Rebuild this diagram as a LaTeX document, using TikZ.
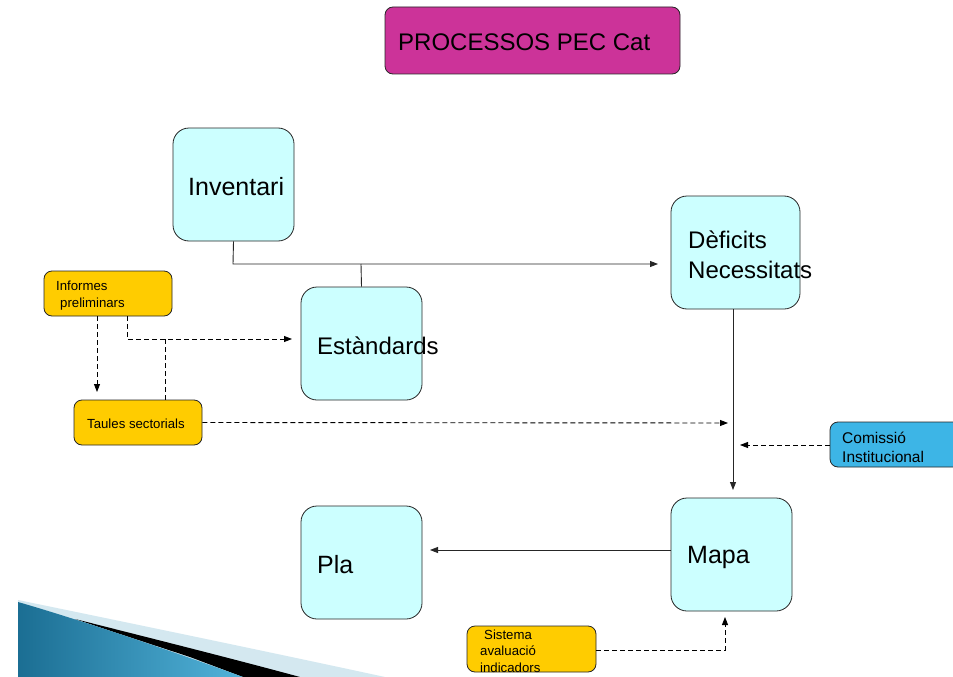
\documentclass[tikz,border=0pt]{standalone}
\usepackage{fontspec}
\setmainfont{Liberation Sans}
\usetikzlibrary{arrows.meta}
\definecolor{cyanbox}{HTML}{CCFFFF}
\definecolor{magbox}{HTML}{CC3399}
\definecolor{yelbox}{HTML}{FFCC00}
\definecolor{bluebox}{HTML}{3DB5E6}
\definecolor{swlight}{HTML}{D4E8F0}
\definecolor{swdark}{HTML}{1B6E93}
\definecolor{swmid}{HTML}{52B3DA}
\tikzset{
  bigbox/.style={draw=black!85, line width=0.8pt, fill=cyanbox, rounded corners=16pt, minimum width=121pt, minimum height=113pt, inner sep=0pt},
  smallbox/.style={draw=black!85, line width=0.8pt, fill=yelbox, rounded corners=8pt, minimum width=128pt, minimum height=45pt, inner sep=0pt},
  bigtxt/.style={anchor=west, inner sep=0pt, font=\fontsize{25}{30}\selectfont, align=left},
  smalltxt/.style={anchor=west, inner sep=0pt, font=\fontsize{13.2}{17}\selectfont, align=left},
  conn/.style={line width=0.9pt, black!85},
  arr/.style={-{Triangle[length=8pt,width=6pt]}},
  dsh/.style={line width=0.9pt, dash pattern=on 5pt off 3pt},
}
\begin{document}
\begin{tikzpicture}[x=1pt,y=-1pt]
\useasboundingbox (0,0) rectangle (953,677);
\fill[white] (0,0) rectangle (953,677);
\begin{scope}
\clip (0,0) rectangle (953,677);
% decorative swoosh
\fill[swlight] (18,600) .. controls (120,621) and (260,650) .. (385,677) -- (18,677) -- cycle;
\fill[black] (75,619) .. controls (150,638) and (230,658) .. (300,677) -- (243,677) -- (190,657) -- (120,634) -- cycle;
\shade[left color=swdark, right color=swmid] (18,602) .. controls (60,614) and (150,643) .. (243,677) -- (18,677) -- cycle;
% title
\node[draw=black!85, line width=0.8pt, fill=magbox, rounded corners=8pt, minimum width=295pt, minimum height=67pt, inner sep=0pt] (title) at (532.5,40.5) {};
\node[anchor=west, inner sep=0pt, font=\fontsize{24}{28}\selectfont] (titletxt) at (398,42) {PROCESSOS PEC Cat};
% big boxes
\node[bigbox] (inv) at (233.5,184.5) {};
\node[bigtxt] (invtxt) at (188,187) {Inventari};
\node[bigbox, minimum width=129pt] (def) at (735.5,252.5) {};
\node[bigtxt, font=\fontsize{24}{30}\selectfont] (deftxt) at (688,255) {Dèficits\\Necessitats};
\node[bigbox] (est) at (361.5,343.5) {};
\node[bigtxt, font=\fontsize{24}{30}\selectfont] (esttxt) at (317,346) {Estàndards};
\node[bigbox] (pla) at (361.5,562.5) {};
\node[bigtxt] (platxt) at (317,565) {Pla};
\node[bigbox] (mapa) at (731.5,554.5) {};
\node[bigtxt] (mapatxt) at (687,557) {Mapa};
% small boxes
\node[smallbox] (inf) at (108,293.5) {};
\node[smalltxt] (inftxt) at (56,295.5) {Informes\\\hspace*{4pt}preliminars};
\node[smallbox] (tau) at (138,422.5) {};
\node[smalltxt] (tautxt) at (87,423.5) {Taules sectorials};
\node[smallbox, fill=bluebox, minimum width=135pt] (com) at (897.5,444.5) {};
\node[anchor=west, inner sep=0pt, font=\fontsize{15.5}{19}\selectfont, align=left] (comtxt) at (842,447) {Comissió\\Institucional};
\node[smallbox, minimum width=129pt, minimum height=46pt] (sis) at (531.5,649) {};
\node[smalltxt, font=\fontsize{13.2}{16.5}\selectfont] (sistxt) at (480,651) {\hspace*{4pt}Sistema\\avaluació\\indicadors};
\end{scope}
% coordinates
\coordinate (j1) at (233,264);
\coordinate (j2) at (361,264);
\coordinate (defin) at (658,264);
\coordinate (mapain) at (733,490);
\coordinate (plain) at (430,550);
\coordinate (tauin) at (97,392);
\coordinate (k1) at (127,339);
\coordinate (k2) at (165,339);
\coordinate (estin) at (292,339);
\coordinate (t1) at (728,423);
\coordinate (c1) at (740,445);
\coordinate (s1) at (725,650);
\coordinate (s2) at (725,617);
% solid connectors
\draw[conn, arr] (inv.south) -- (j1) -- (defin);
\draw[conn] (j2) -- (est.north);
\draw[conn, arr] (def.south -| mapain) -- (mapain);
\draw[conn, arr] (mapa.west |- plain) -- (plain);
% dashed connectors
\draw[dsh, arr] (inf.south -| tauin) -- (tauin);
\draw[dsh, arr] (inf.south -| k1) -- (k1) -- (estin);
\draw[dsh] (tau.north -| k2) -- (k2);
\draw[dsh, arr] (tau.east) -- (t1);
\draw[dsh, arr] (com.west |- c1) -- (c1);
\draw[dsh, arr] (sis.east |- s1) -- (s1) -- (s2);
\end{tikzpicture}
\end{document}
